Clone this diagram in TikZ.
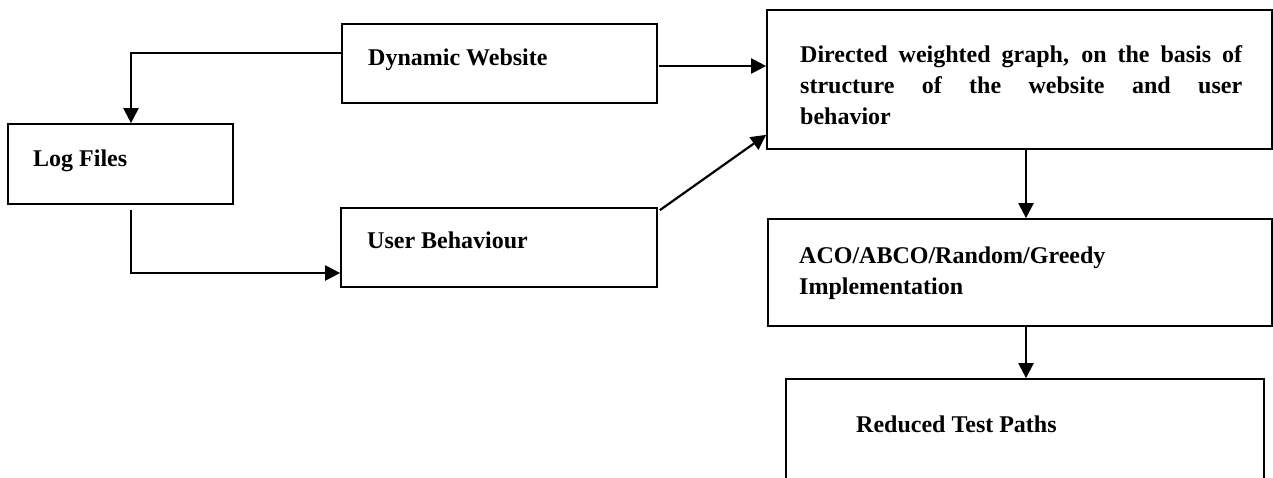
\documentclass[tikz,border=0pt]{standalone}
\usepackage{fontspec}
\setmainfont{Liberation Serif}
\usetikzlibrary{arrows.meta,fit,calc}
\begin{document}
\begin{tikzpicture}[x=1pt,y=-1pt,
  box/.style={draw=black, line width=1.7pt, inner sep=0pt, rectangle},
  lbl/.style={inner sep=0pt, anchor=base west, font=\fontsize{24}{31}\selectfont\bfseries},
  arr/.style={line width=2.2pt, -{Triangle[length=15pt,width=15pt]}},
  ]
\useasboundingbox (0,0) rectangle (1273,477);
% boxes
\node[box, fit={(342,24) (657,103)}] (dyn) {};
\node[box, fit={(8,124) (233,204)}] (log) {};
\node[box, fit={(341,208) (657,287)}] (user) {};
\node[box, fit={(767,10) (1272,149)}] (dir) {};
\node[box, fit={(768,219) (1272,326)}] (aco) {};
\node[box, fit={(786,379) (1264,492)}] (red) {};
% labels
\node[lbl] (tdyn) at (368,65) {Dynamic Website};
\node[lbl] (tlog) at (33,166) {Log Files};
\node[lbl] (tuser) at (367,248) {User Behaviour};
\node[lbl, text width=442pt, align=justify] (tdir) at (800,62)
  {Directed weighted graph, on the basis of\linebreak structure of the website and user\linebreak behavior};
\node[lbl, text width=400pt, align=left] (taco) at (799,263)
  {ACO/ABCO/Random/Greedy\\Implementation};
\node[lbl] (tred) at (856,432) {Reduced Test Paths};
% connectors
\draw[arr] ([yshift=-30pt]dyn.north west) -| ([xshift=10.5pt]log.north);
\draw[arr] ([shift={(10.5pt,-5pt)}]log.south) |- ([yshift=-25.5pt]user.west);
\draw[arr] ([shift={(1pt,-2.5pt)}]dyn.east) -- ([yshift=-2.5pt]dyn.east -| dir.west);
\draw[arr] ([shift={(2pt,-3pt)}]user.north east) -- ([yshift=15pt]dir.south west);
\draw[arr] ([xshift=6.5pt]dir.south) -- ([xshift=6.5pt]dir.south |- aco.north);
\draw[arr] ([xshift=6pt]aco.south) -- ([xshift=6pt]aco.south |- red.north);
\end{tikzpicture}
\end{document}
